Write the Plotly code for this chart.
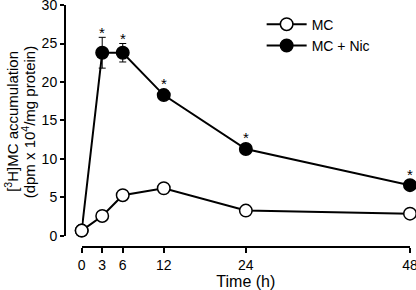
import plotly.graph_objects as go

times = [0, 3, 6, 12, 24, 48]
mc = [0.7, 2.6, 5.3, 6.2, 3.3, 2.9]
mc_nic = [0.7, 23.8, 23.8, 18.3, 11.3, 6.6]
mc_nic_err = [0.0, 2.0, 1.2, 0.3, 0.3, 0.3]
sig_times = [3, 6, 12, 24, 48]
x_ticks = [0, 3, 6, 12, 24, 48]
y_ticks = [0, 5, 10, 15, 20, 25, 30]
y_title_lines = ["[<sup>3</sup>H]MC accumulation", "(dpm x 10<sup>4</sup>/mg protein)"]

FONT = "Liberation Sans, Arial, sans-serif"

fig = go.Figure()
fig.add_trace(go.Scatter(
    x=times, y=mc_nic, name="MC + Nic", mode="lines+markers",
    line=dict(color="black", width=2),
    marker=dict(size=12.5, color="black", line=dict(color="black", width=1.5)),
    error_y=dict(type="data", array=mc_nic_err, color="black", thickness=1, width=3.5),
    cliponaxis=False, legendrank=2,
))
fig.add_trace(go.Scatter(
    x=times, y=mc, name="MC", mode="lines+markers",
    line=dict(color="black", width=2),
    marker=dict(size=12.5, color="white", line=dict(color="black", width=1.5)),
    cliponaxis=False, legendrank=1,
))

for t in sig_times:
    i = times.index(t)
    top = max(mc_nic[i] + mc_nic_err[i], mc_nic[i] + 0.8)
    fig.add_annotation(x=t, y=top, text="*", showarrow=False, yanchor="middle",
                       yshift=5, font=dict(family=FONT, size=15, color="black"))

# y-axis title, two tightly spaced rotated lines
for k, line in enumerate(y_title_lines):
    fig.add_annotation(xref="paper", yref="paper", x=(11.5 + 16.5 * k - 65) / 344.7, y=0.519,
                       xanchor="center", yanchor="middle", textangle=-90,
                       text=line, showarrow=False,
                       font=dict(family=FONT, size=15, color="black"))

fig.update_layout(
    width=416, height=290,
    margin=dict(l=65, r=6, t=5, b=43, autoexpand=False),
    plot_bgcolor="white", paper_bgcolor="white",
    font=dict(family=FONT, size=14, color="black"),
    showlegend=True,
    legend=dict(x=0.57, y=0.985, xanchor="left", yanchor="top",
                bgcolor="rgba(0,0,0,0)", font=dict(size=14),
                itemwidth=40, tracegroupgap=0),
    xaxis=dict(range=[0, 48], domain=[0.0484, 1], anchor="free", position=0,
               tickvals=x_ticks, ticktext=[str(v) for v in x_ticks],
               showline=True, linecolor="black", linewidth=2,
               ticks="outside", ticklen=5, tickwidth=2, tickcolor="black",
               showgrid=False, zeroline=False, automargin=False,
               ticklabeloverflow="allow",
               title=dict(text="Time (h)", font=dict(size=16), standoff=1)),
    yaxis=dict(range=[0, 30], domain=[0.0455, 1], anchor="free", position=0,
               tickvals=y_ticks,
               showline=True, linecolor="black", linewidth=2,
               ticks="outside", ticklen=4, tickwidth=2, tickcolor="black",
               showgrid=False, zeroline=False, automargin=False,
               ticklabeloverflow="allow"),
)

fig.write_html("out.html", config={"displayModeBar": False},
               post_script="document.body.style.margin='0';document.body.style.padding='0';document.body.style.overflow='hidden';")
